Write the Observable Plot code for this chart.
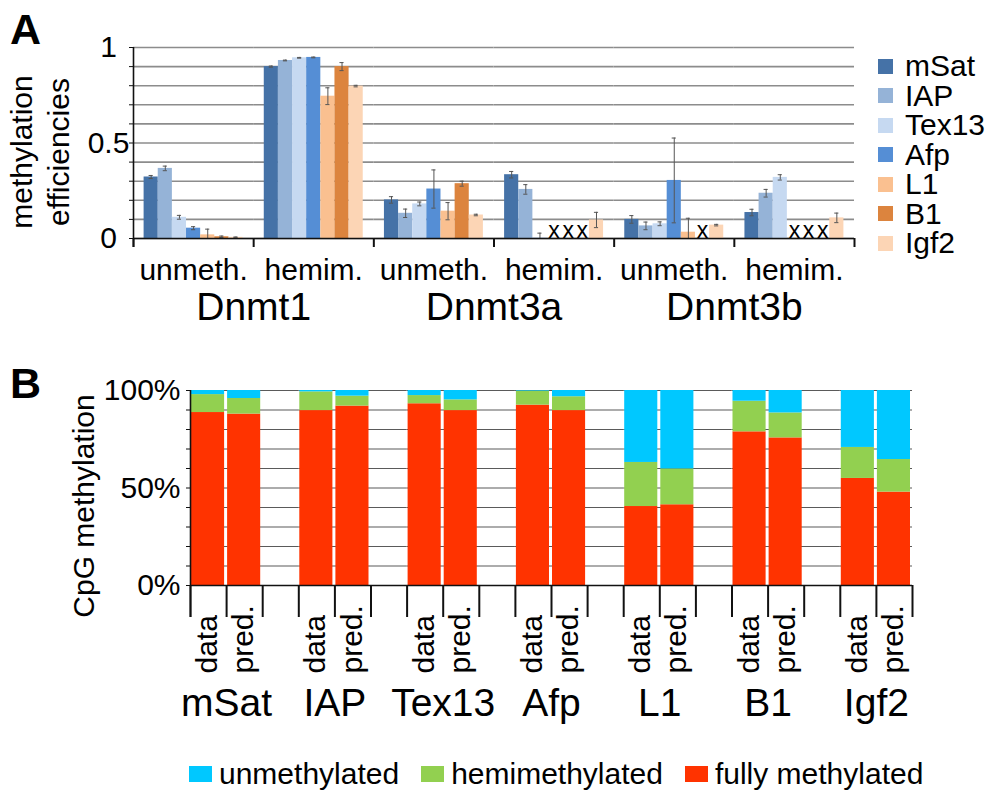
<!DOCTYPE html>
<html><head><meta charset="utf-8">
<script src="https://cdn.jsdelivr.net/npm/d3@7"></script>
<script src="https://cdn.jsdelivr.net/npm/@observablehq/plot@0.6"></script>
<style>
body{margin:0;background:#fff;font-family:"Liberation Sans",Arial,sans-serif;color:#000;}
#root{position:relative;width:997px;height:800px;overflow:hidden;}
#root svg{position:absolute;left:0;}
.letter{position:absolute;font-weight:bold;font-size:43px;line-height:43px;}
.legA{position:absolute;left:878px;font-size:30px;line-height:24px;height:24px;display:flex;align-items:center;white-space:nowrap;}
.legA span.sw{display:inline-block;width:15px;height:15px;margin-right:12px;}
.legB{position:absolute;left:189px;top:762px;font-size:30px;line-height:24px;display:flex;align-items:center;white-space:nowrap;}
.legB span.sw{display:inline-block;width:23px;height:16px;margin-right:7px;}
.legB span.tx{margin-right:22px;}
</style></head>
<body><div id="root"></div>
<script>
// ---------- Panel A data ----------
const seriesA = ["mSat","IAP","Tex13","Afp","L1","B1","Igf2"];
const colorsA = ["#4572A7","#95B3D7","#C6D9F1","#558ED5","#FAC090","#DC843E","#FCD5B5"];
const enzymes = ["Dnmt1","Dnmt3a","Dnmt3b"];
const substrates = ["unmeth.","hemim."];
const dnmt1Unmeth     = [0.322, 0.367, 0.111, 0.054, 0.019, 0.009, 0.006];
const dnmt1UnmethErr  = [0.008, 0.012, 0.010, 0.008, 0.030, 0.004, 0.002];
const dnmt1Hemim      = [0.900, 0.932, 0.946, 0.948, 0.745, 0.900, 0.798];
const dnmt1HemimErr   = [0.003, 0.002, 0.002, 0.002, 0.044, 0.021, 0.004];
const dnmt3aUnmeth    = [0.202, 0.132, 0.181, 0.259, 0.143, 0.287, 0.123];
const dnmt3aUnmethErr = [0.017, 0.022, 0.010, 0.100, 0.045, 0.013, 0.004];
const dnmt3aHemim     = [0.334, 0.257, 0.003, null, null, null, 0.097];
const dnmt3aHemimErr  = [0.017, 0.025, 0.025, null, null, null, 0.040];
const dnmt3bUnmeth    = [0.100, 0.066, 0.077, 0.304, 0.033, null, 0.070];
const dnmt3bUnmethErr = [0.020, 0.020, 0.010, 0.222, 0.073, null, 0.004];
const dnmt3bHemim     = [0.136, 0.237, 0.320, null, null, null, 0.108];
const dnmt3bHemimErr  = [0.017, 0.020, 0.014, null, null, null, 0.025];
const gridA = [0,0.1,0.2,0.3,0.4,0.5,0.6,0.7,0.8,0.9,1];
const yLabelsA = [0, 0.5, 1];
const yTitleA = "methylation\nefficiencies";

// ---------- Panel B data ----------
const genes = ["mSat","IAP","Tex13","Afp","L1","B1","Igf2"];
const kinds = ["data","pred."];
const states = ["fully methylated","hemimethylated","unmethylated"];
const stateColors = ["#FF3300","#92D050","#00C8FF"];
const legendOrderB = ["unmethylated","hemimethylated","fully methylated"];
const fullData = [88.7, 89.7, 93.2, 92.5, 40.5, 78.8, 54.9];
const hemiData = [ 9.2,  9.6,  4.2,  7.2, 22.6, 15.7, 15.9];
const unData   = [ 2.1,  0.7,  2.6,  0.3, 36.9,  5.5, 29.2];
const fullPred = [87.9, 92.0, 89.7, 89.7, 41.4, 75.7, 47.9];
const hemiPred = [ 8.0,  5.1,  5.5,  7.1, 18.4, 12.8, 16.7];
const unPred   = [ 4.1,  2.9,  4.8,  3.2, 40.2, 11.5, 35.4];
const gridB = [0,10,20,30,40,50,60,70,80,90,100];
const yLabelsB = [0,50,100];
const yTitleB = "CpG methylation";

// ---------- layout ----------
const FONT = "Liberation Sans, Arial, sans-serif";
const W = 997;
const root = document.getElementById("root");

// Panel A
const aLeft = 133, aRight = 854, aTop = 47, aBase = 238, aH = 345;
const fxKeys = enzymes.flatMap(e => substrates.map(s => e + " " + s));
const valuesA = [[dnmt1Unmeth,dnmt1UnmethErr],[dnmt1Hemim,dnmt1HemimErr],
                 [dnmt3aUnmeth,dnmt3aUnmethErr],[dnmt3aHemim,dnmt3aHemimErr],
                 [dnmt3bUnmeth,dnmt3bUnmethErr],[dnmt3bHemim,dnmt3bHemimErr]];
const rowsA = fxKeys.flatMap((k, gi) => seriesA.map((s, i) => ({key: k, series: s, v: valuesA[gi][0][i], e: valuesA[gi][1][i]})));
const presentA = rowsA.filter(d => d.v != null);
const missingA = rowsA.filter(d => d.v == null);
const outerPad = 0.75;
const xStepA = (aRight - aLeft) / fxKeys.length / (seriesA.length + 2 * outerPad);
const edgeA = xStepA * (0.5 + outerPad);
const tickLenA = 9 / (aBase - aTop);

const plotA = Plot.plot({
  width: W, height: aH,
  marginLeft: aLeft, marginRight: W - aRight, marginTop: aTop, marginBottom: aH - aBase,
  style: {fontFamily: FONT, background: "transparent", overflow: "visible", color: "#000"},
  fx: {domain: fxKeys, padding: 0, round: false, axis: null, label: null},
  x: {domain: seriesA, paddingInner: 0, paddingOuter: outerPad, round: false, axis: null, label: null},
  y: {domain: [0, 1], axis: null, label: null},
  color: {domain: seriesA, range: colorsA},
  marks: [
    Plot.ruleY(gridA, {y: d => d, stroke: "#8c8c8c", strokeWidth: 1.6}),
    Plot.barY(presentA, {fx: "key", x: "series", y: "v", fill: "series"}),
    Plot.ruleX(presentA, {fx: "key", x: "series", y1: d => Math.max(0, d.v - d.e), y2: d => d.v + d.e, stroke: "#555", strokeWidth: 1}),
    Plot.tickY(presentA, {fx: "key", x: "series", y: d => d.v + d.e, stroke: "#555", strokeWidth: 1, insetLeft: 5, insetRight: 5}),
    Plot.tickY(presentA.filter(d => d.v - d.e > 0), {fx: "key", x: "series", y: d => d.v - d.e, stroke: "#555", strokeWidth: 1, insetLeft: 5, insetRight: 5}),
    Plot.text(missingA, {fx: "key", x: "series", y: () => 0, text: () => "x", fontSize: 23, dy: -8, fill: "#000"}),
    Plot.ruleY([0], {stroke: "#111", strokeWidth: 1.6}),
    Plot.ruleX(fxKeys, {fx: d => d, x: () => seriesA[0], y1: () => -tickLenA, y2: () => 0, dx: -edgeA, stroke: "#111", strokeWidth: 2}),
    Plot.ruleX([fxKeys[fxKeys.length - 1]], {fx: d => d, x: () => seriesA[seriesA.length - 1], y1: () => -tickLenA, y2: () => 0, dx: edgeA, stroke: "#111", strokeWidth: 2}),
    Plot.ruleX([fxKeys[0]], {fx: d => d, x: () => seriesA[0], y1: () => -tickLenA, y2: () => 1, dx: -edgeA, stroke: "#111", strokeWidth: 1.6}),
    Plot.axisY({ticks: gridA, tickSize: 4, tickFormat: () => "", stroke: "#111", label: null}),
    Plot.axisY({ticks: yLabelsA, tickSize: 0, tickPadding: 25, textAnchor: "middle", fontSize: 30, label: null, tickFormat: d => d === 0.5 ? "0.5" : String(d)}),
    Plot.axisFx({anchor: "bottom", tickSize: 0, tickPadding: 20, fontSize: 30, label: null, tickFormat: d => d.split(" ")[1]}),
    Plot.text(enzymes, {fx: d => d + " " + substrates[0], frameAnchor: "bottom-right", text: d => d, fontSize: 39, dy: 81, textAnchor: "middle"}),
    Plot.text([yTitleA], {fx: () => fxKeys[0], frameAnchor: "left", text: d => d, rotate: -90, fontSize: 30, lineHeight: 1.25, dx: -95, dy: 9, textAnchor: "middle"})
  ]
});
plotA.style.top = "0px";
root.appendChild(plotA);

// Panel B
const bTopPx = 345, bLeft = 190, bRight = 912, bTop = 45, bBase = 240, bH = 400;
const rowsB = genes.flatMap((g, i) =>
  [["data", fullData, hemiData, unData], ["pred.", fullPred, hemiPred, unPred]].flatMap(([kind, f, h, u]) =>
    states.map((st, j) => ({gene: g, kind, state: st, value: [f, h, u][j][i]}))));
const labelRowsB = genes.flatMap(g => kinds.map(k => ({gene: g, kind: k})));
const fxStepB = (bRight - bLeft) / (genes.length - 1 / 3);
const gapB = fxStepB / 3;
const bwB = fxStepB * (2 / 3) / kinds.length;
const tickLenB = 32 / (bBase - bTop) * 100;
const innerGenes = genes.slice(0, -1);
const lastGene = genes[genes.length - 1];
const gridRowsInner = innerGenes.flatMap(g => gridB.map(v => ({gene: g, v})));
const gridRowsLast = gridB.map(v => ({gene: lastGene, v}));

const plotB = Plot.plot({
  width: W, height: bH,
  marginLeft: bLeft, marginRight: W - bRight, marginTop: bTop, marginBottom: bH - bBase,
  style: {fontFamily: FONT, background: "transparent", overflow: "visible", color: "#000"},
  fx: {domain: genes, paddingInner: 1 / 3, paddingOuter: 0, round: false, axis: null, label: null},
  x: {domain: kinds, padding: 0, round: false, axis: null, label: null},
  y: {domain: [0, 100], axis: null, label: null},
  color: {domain: states, range: stateColors},
  marks: [
    Plot.ruleY(gridRowsInner, {fx: "gene", y: "v", insetRight: -gapB, stroke: "#5a5a5a", strokeWidth: 1.1}),
    Plot.ruleY(gridRowsLast, {fx: "gene", y: "v", stroke: "#5a5a5a", strokeWidth: 1.1}),
    Plot.barY(rowsB, {fx: "gene", x: "kind", y: "value", fill: "state", insetLeft: 1, insetRight: 2}),
    Plot.ruleY(innerGenes, {fx: d => d, y: () => 0, insetRight: -gapB, stroke: "#111", strokeWidth: 1.4}),
    Plot.ruleY([lastGene], {fx: d => d, y: () => 0, stroke: "#111", strokeWidth: 1.4}),
    Plot.ruleX(labelRowsB, {fx: "gene", x: "kind", y1: () => -tickLenB, y2: () => 0, dx: -bwB / 2, stroke: "#111", strokeWidth: 2}),
    Plot.ruleX(genes, {fx: d => d, x: () => kinds[1], y1: () => -tickLenB, y2: () => 0, dx: bwB / 2, stroke: "#111", strokeWidth: 2}),
    Plot.ruleX([genes[0]], {fx: d => d, x: () => kinds[0], y1: () => -tickLenB, y2: () => 100, dx: -bwB / 2, stroke: "#111", strokeWidth: 1.6}),
    Plot.axisY({ticks: gridB, tickSize: 4, tickFormat: () => "", stroke: "#111", label: null}),
    Plot.axisY({ticks: yLabelsB, tickSize: 0, tickPadding: 10, fontSize: 30, label: null, tickFormat: d => d + "%"}),
    Plot.text(labelRowsB, {fx: "gene", x: "kind", y: () => 0, text: "kind", rotate: -90, textAnchor: "start", fontSize: 30, dy: 88, dx: -1}),
    Plot.text(genes, {fx: d => d, frameAnchor: "bottom", text: d => d, fontSize: 39, dy: 130, textAnchor: "middle"}),
    Plot.text([yTitleB], {fx: () => genes[0], frameAnchor: "left", text: d => d, rotate: -90, fontSize: 30, dx: -106, dy: 18, textAnchor: "middle"})
  ]
});
plotB.style.top = bTopPx + "px";
root.appendChild(plotB);

// Letters
for (const [t, top] of [["A", 8], ["B", 362]]) {
  const d = document.createElement("div");
  d.className = "letter"; d.textContent = t; d.style.left = "10px"; d.style.top = top + "px";
  root.appendChild(d);
}
// Legend A
seriesA.forEach((s, i) => {
  const row = document.createElement("div");
  row.className = "legA";
  row.style.top = (54 + i * 29.5) + "px";
  row.innerHTML = `<span class="sw" style="background:${colorsA[i]}"></span><span>${s}</span>`;
  root.appendChild(row);
});
// Legend B
const legB = document.createElement("div");
legB.className = "legB";
legB.innerHTML = legendOrderB.map(s => `<span class="sw" style="background:${stateColors[states.indexOf(s)]}"></span><span class="tx">${s}</span>`).join("");
root.appendChild(legB);
</script>
</body></html>
